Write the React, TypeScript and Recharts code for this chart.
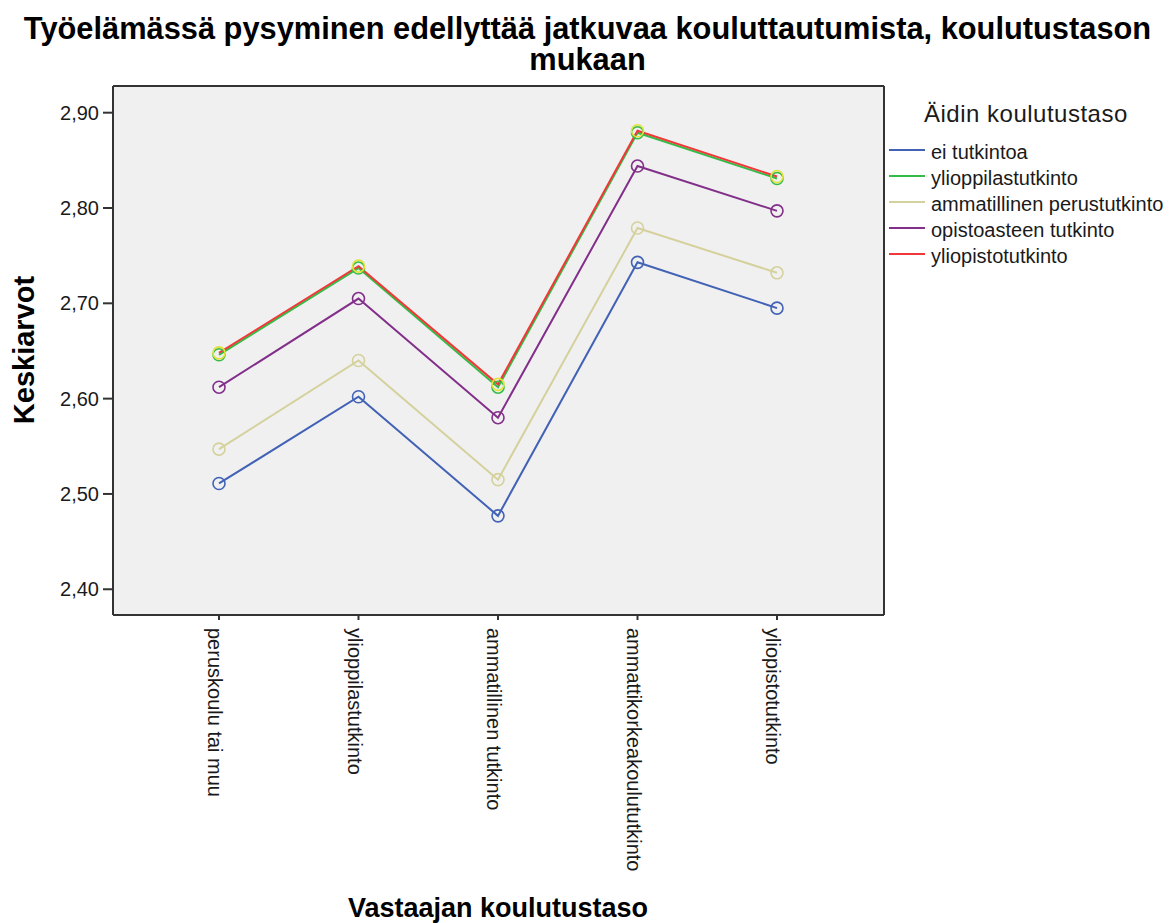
import { LineChart, Line, XAxis, YAxis, CartesianGrid, Legend } from "recharts"

const FONT = "'Liberation Sans', Arial, sans-serif"

// vastaajan koulutustaso (x-akseli)
const categories = [
  "peruskoulu tai muu",
  "ylioppilastutkinto",
  "ammatillinen tutkinto",
  "ammattikorkeakoulututkinto",
  "yliopistotutkinto",
]

// keskiarvot äidin koulutustason mukaan
const eiTutkintoa = [2.511, 2.602, 2.477, 2.743, 2.695]
const ylioppilastutkinto = [2.646, 2.737, 2.612, 2.879, 2.831]
const ammatillinenPerustutkinto = [2.547, 2.64, 2.515, 2.779, 2.732]
const opistoasteenTutkinto = [2.612, 2.705, 2.58, 2.844, 2.797]
const yliopistotutkinto = [2.648, 2.739, 2.615, 2.881, 2.833]

const yTicks = [2.4, 2.5, 2.6, 2.7, 2.8, 2.9]

const series = [
  { key: "ei", name: "ei tutkintoa", color: "#4262b6", dot: "#4262b6", values: eiTutkintoa },
  { key: "yo", name: "ylioppilastutkinto", color: "#35bb48", dot: "#35bb48", values: ylioppilastutkinto },
  { key: "amm", name: "ammatillinen perustutkinto", color: "#d5d19c", dot: "#d5d19c", values: ammatillinenPerustutkinto },
  { key: "opisto", name: "opistoasteen tutkinto", color: "#822f8a", dot: "#822f8a", values: opistoasteenTutkinto },
  { key: "yliopisto", name: "yliopistotutkinto", color: "#f03838", dot: "#dfe33a", values: yliopistotutkinto },
]

const data = categories.map((cat, i) => {
  const row: Record<string, string | number> = { cat }
  series.forEach((s) => {
    row[s.key] = s.values[i]
  })
  return row
})

const XTick = (props: any) => {
  const { x, y, payload } = props
  return (
    <text
      x={x}
      y={y}
      dx={6}
      dy={11}
      transform={`rotate(90, ${x}, ${y})`}
      textAnchor="start"
      fontSize={20}
      fontFamily={FONT}
      fill="#1a1a1a"
    >
      {payload.value}
    </text>
  )
}

const renderLegend = (props: any) => {
  // keep the series order (recharts sorts the payload by name)
  const order = series.map((s) => s.name)
  const items = [...(props.payload || [])].sort((a: any, b: any) => order.indexOf(a.value) - order.indexOf(b.value))
  return (
    <div style={{ position: "relative", width: 295, height: 190, fontFamily: FONT, color: "#1a1a1a" }}>
      <div style={{ position: "absolute", left: 44, top: 12, fontSize: 24, lineHeight: "24px", letterSpacing: 0.5, whiteSpace: "nowrap" }}>
        Äidin koulutustaso
      </div>
      {items.map((p: any, i: number) => (
        <div key={p.value}>
          <div style={{ position: "absolute", left: 9, top: 58.5 + 26 * i, width: 36, height: 2.5, background: p.color }} />
          <div style={{ position: "absolute", left: 51, top: 52 + 26 * i, fontSize: 20, lineHeight: "20px", whiteSpace: "nowrap" }}>
            {p.value}
          </div>
        </div>
      ))}
    </div>
  )
}

export default function App() {
  return (
    <div style={{ position: "absolute", left: 0, top: 0, width: 1175, height: 923, background: "#fff" }}>
      <div
        style={{
          position: "absolute",
          left: 0,
          top: 13,
          width: 1175,
          textAlign: "center",
          fontFamily: FONT,
          fontWeight: "bold",
          fontSize: 30.8,
          lineHeight: "31px",
          color: "#000",
        }}
      >
        Työelämässä pysyminen edellyttää jatkuvaa kouluttautumista, koulutustason
        <br />
        mukaan
      </div>
      <LineChart
        width={1175}
        height={923}
        data={data}
        margin={{ top: 86, right: 291, left: 13, bottom: 58 }}
        style={{ position: "absolute", left: 0, top: 0 }}
      >
        <CartesianGrid
          fill="#f0f0f0"
          stroke="#333"
          strokeWidth={2}
          horizontalCoordinatesGenerator={({ offset }: any) => [offset.top, offset.top + offset.height]}
          verticalCoordinatesGenerator={({ offset }: any) => [offset.left, offset.left + offset.width]}
        />
        <XAxis
          dataKey="cat"
          padding={{ left: 106, right: 107 }}
          height={250}
          interval={0}
          tickSize={5}
          tick={<XTick />}
          axisLine={{ stroke: "#333", strokeWidth: 2 }}
          tickLine={{ stroke: "#333", strokeWidth: 2 }}
          label={{
            content: () => (
              <text x={498} y={917} textAnchor="middle" fontFamily={FONT} fontWeight="bold" fontSize={27} fill="#000">
                Vastaajan koulutustaso
              </text>
            ),
          }}
        />
        <YAxis
          domain={[2.373, 2.928]}
          ticks={yTicks}
          width={100}
          tickSize={10}
          tickMargin={4}
          tickFormatter={(v: number) => v.toFixed(2).replace(".", ",")}
          tick={{ fontSize: 20, fontFamily: FONT, fill: "#1a1a1a" }}
          axisLine={{ stroke: "#333", strokeWidth: 2 }}
          tickLine={{ stroke: "#333", strokeWidth: 2 }}
          label={{
            content: () => (
              <text x={34} y={350} transform="rotate(-90, 34, 350)" textAnchor="middle" fontFamily={FONT} fontWeight="bold" fontSize={29} fill="#000">
                Keskiarvot
              </text>
            ),
          }}
        />
        <Legend
          layout="horizontal"
          verticalAlign="middle"
          align="center"
          content={renderLegend}
          wrapperStyle={{ position: "absolute", left: 880, top: 90, width: 295, height: 190 }}
        />
        {series.map((s) => (
          <Line
            key={s.key}
            dataKey={s.key}
            name={s.name}
            stroke={s.color}
            strokeWidth={2}
            dot={{ r: 6, fill: "none", stroke: s.dot, strokeWidth: 1.6 }}
            activeDot={false}
            isAnimationActive={false}
          />
        ))}
      </LineChart>
    </div>
  )
}
